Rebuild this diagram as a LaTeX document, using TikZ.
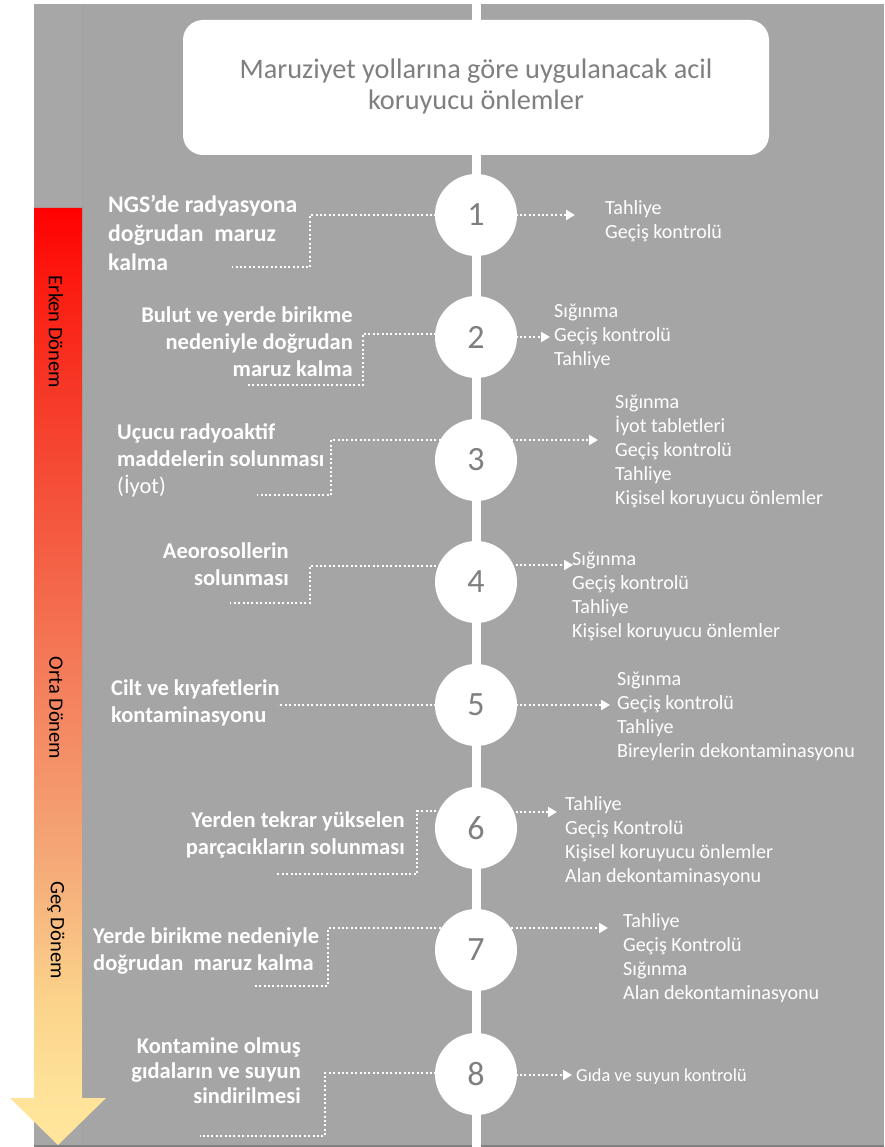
\documentclass[tikz,border=0pt]{standalone}
\usepackage{fontspec}
\setmainfont{Carlito}
\usetikzlibrary{arrows.meta}

\definecolor{bg}{HTML}{A5A5A5}
\definecolor{bgstrip}{HTML}{A7A7A7}
\definecolor{bgedge}{HTML}{808080}
\definecolor{numgray}{HTML}{7F7F7F}
\definecolor{g0}{HTML}{FFE69B}
\definecolor{g1}{HTML}{FFE39A}
\definecolor{g2}{HTML}{FBD38B}
\definecolor{g3}{HTML}{F4A676}
\definecolor{g4}{HTML}{F4835F}
\definecolor{g5}{HTML}{F45E43}
\definecolor{g6}{HTML}{F63A28}
\definecolor{g7}{HTML}{FC1A10}
\definecolor{g8}{HTML}{FF0000}

% time axis: pale yellow at the tip, red at the top
\pgfdeclareverticalshading{phase}{100bp}{color(0bp)=(g0); color(25bp)=(g0); color(27.5bp)=(g1); color(32.7bp)=(g2); color(40.7bp)=(g3); color(48.7bp)=(g4); color(56.8bp)=(g5); color(64.8bp)=(g6); color(71.2bp)=(g7); color(75bp)=(g8); color(100bp)=(g8)}

% multi-line nodes below are placed by the baseline of their last line
\tikzset{
  dots/.style={draw=white, line width=2.4pt, dash pattern=on 2pt off 2.4pt},
  arr/.style={dots, -{Triangle[length=9pt,width=10pt]}},
  stepnum/.style={circle, fill=white, minimum size=82pt, inner sep=0pt,
    text=numgray, font=\fontsize{34}{36}\selectfont},
  cause/.style={inner sep=0pt, text=white, font=\bfseries\fontsize{22.5}{27}\selectfont},
  measure/.style={inner sep=0pt, text=white, align=left, anchor=base west,
    font=\fontsize{20.1}{24}\selectfont},
  phaselbl/.style={rotate=-90, inner sep=0pt, text=black, font=\fontsize{20.5}{22}\selectfont},
}

\begin{document}
\begin{tikzpicture}[x=1pt, y=-1pt]
\useasboundingbox (0,0) rectangle (884,1147);

% panel
\fill[bgedge] (34,4) rectangle (884,1147);
\fill[bg] (34,4) rectangle (884,1145);
\fill[bgstrip] (34,4) rectangle (82,1145);
\draw[bg!98!black, line width=0.5pt] (82,4) -- (82,1145);

% phase arrow
\shade[shading=phase] (34,208) -- (82,208) -- (82,1098) -- (106,1098)
  -- (58,1145) -- (10,1098) -- (34,1098) -- cycle;
\node[phaselbl] (p1) at (56,332) {Erken Dönem};
\node[phaselbl] (p2) at (56,708) {Orta Dönem};
\node[phaselbl] (p3) at (56,930) {Geç Dönem};

% central spine
\fill[white] (472,0) rectangle (481,1147);

% title
\node[fill=white, rounded corners=20pt, minimum width=586pt, minimum height=135pt,
  inner sep=0pt] (title) at (476,87.5) {};
\node[text=numgray, align=center, font=\fontsize{28.3}{31}\selectfont, inner sep=0pt,
  anchor=base] (tt) at (476,110) {Maruziyet yollarına göre uygulanacak acil\\koruyucu önlemler};

% step positions
\coordinate (s1) at (476,215);
\coordinate (s2) at (476,337);
\coordinate (s3) at (476,460);
\coordinate (s4) at (476,582);
\coordinate (s5) at (476,705);
\coordinate (s6) at (476,828);
\coordinate (s7) at (476,950);
\coordinate (s8) at (476,1074);

% bends and ends of the left links
\coordinate (k1) at (310,215);  \coordinate (e1) at (232,267);
\coordinate (k2) at (363,334);  \coordinate (e2) at (247,385);
\coordinate (k3) at (331,440);  \coordinate (e3) at (257,495);
\coordinate (k4) at (310,566);  \coordinate (e4) at (230,603);
\coordinate (e5) at (278,705);
\coordinate (k6) at (417,811);  \coordinate (e6) at (277,874);
\coordinate (k7) at (328,928);  \coordinate (e7) at (253,986);
\coordinate (k8) at (325,1073); \coordinate (e8) at (200,1136);

% arrow tips on the right
\coordinate (t1) at (575,215);
\coordinate (t2) at (550,337);
\coordinate (t3) at (598,440);
\coordinate (t4) at (573,565);
\coordinate (t5) at (610,705);
\coordinate (t6) at (557,812);
\coordinate (t7) at (608,928);
\coordinate (t8) at (572,1075);

% left links
\draw[dots] (s1 |- k1) -- (k1) |- (e1);
\draw[dots] (s2 |- k2) -- (k2) |- (e2);
\draw[dots] (s3 |- k3) -- (k3) |- (e3);
\draw[dots] (s4 |- k4) -- (k4) |- (e4);
\draw[dots] (s5 |- e5) -- (e5);
\draw[dots] (s6 |- k6) -- (k6) |- (e6);
\draw[dots] (s7 |- k7) -- (k7) |- (e7);
\draw[dots] (s8 |- k8) -- (k8) |- (e8);

% right arrows
\foreach \i in {1,...,8} { \draw[arr] (s\i |- t\i) -- (t\i); }

% step circles
\foreach \i in {1,...,8} { \node[stepnum] (c\i) at (s\i) {\i}; }

% exposure pathways
\node[cause, align=left, anchor=base west, font=\bfseries\fontsize{23.8}{29}\selectfont] (L1) at (108,271)
  {NGS’de radyasyona\\doğrudan~ maruz\\kalma};
\node[cause, align=right, anchor=base east] (L2) at (353,376)
  {Bulut ve yerde birikme\\nedeniyle doğrudan\\maruz kalma};
\node[cause, align=left, anchor=base west] (L3) at (117,493)
  {Uçucu radyoaktif\\maddelerin solunması\\\mdseries(İyot)};
\node[cause, align=right, anchor=base east] (L4) at (289,585)
  {Aeorosollerin\\solunması};
\node[cause, align=left, anchor=base west] (L5) at (111,722)
  {Cilt ve kıyafetlerin\\kontaminasyonu};
\node[cause, align=right, anchor=base east] (L6) at (405,854)
  {Yerden tekrar yükselen\\parçacıkların solunması};
\node[cause, align=left, anchor=base west] (L7) at (93,970)
  {Yerde birikme nedeniyle\\doğrudan~ maruz kalma};
\node[cause, align=right, anchor=base east, font=\bfseries\fontsize{22.5}{25}\selectfont] (L8) at (301,1103)
  {Kontamine olmuş\\gıdaların ve suyun\\sindirilmesi};

% protective measures
\node[measure] (R1) at (605,239) {Tahliye\\Geçiş kontrolü};
\node[measure] (R2) at (554,365) {Sığınma\\Geçiş kontrolü\\Tahliye};
\node[measure] (R3) at (615,504) {Sığınma\\İyot tabletleri\\Geçiş kontrolü\\Tahliye\\Kişisel koruyucu önlemler};
\node[measure] (R4) at (572,637) {Sığınma\\Geçiş kontrolü\\Tahliye\\Kişisel koruyucu önlemler};
\node[measure] (R5) at (617,757) {Sığınma\\Geçiş kontrolü\\Tahliye\\Bireylerin dekontaminasyonu};
\node[measure] (R6) at (565,882) {Tahliye\\Geçiş Kontrolü\\Kişisel koruyucu önlemler\\Alan dekontaminasyonu};
\node[measure] (R7) at (623,999) {Tahliye\\Geçiş Kontrolü\\Sığınma\\Alan dekontaminasyonu};
\node[measure, font=\fontsize{18.3}{22}\selectfont] (R8) at (576,1081) {Gıda ve suyun kontrolü};
\end{tikzpicture}
\end{document}
